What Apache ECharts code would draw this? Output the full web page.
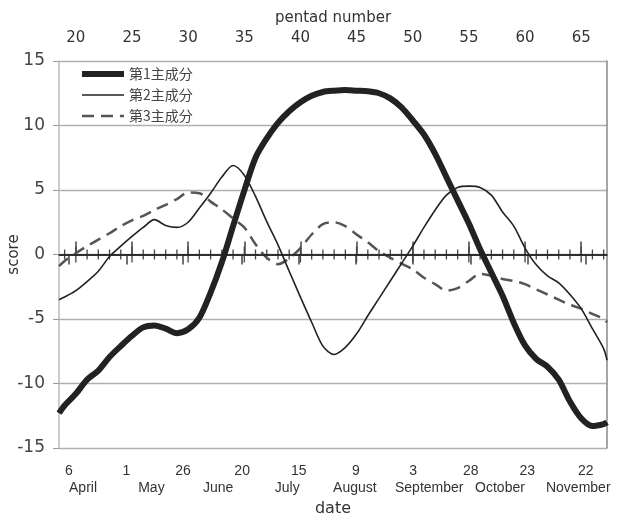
<!DOCTYPE html>
<html>
<head>
<meta charset="utf-8">
<script src="https://cdn.jsdelivr.net/npm/echarts@6/dist/echarts.min.js"></script>
<style>
  html, body { margin: 0; padding: 0; background: #fff; }
  #chart { width: 617px; height: 516px; }
</style>
</head>
<body>
<div id="chart"></div>
<script>
// pentad positions of the samples (first/last at the plot edges)
const pentads = [18.5, 19, 20, 21, 22, 23, 24, 25, 26, 27, 28, 29, 30, 31, 32, 33, 34, 35, 36, 37, 38, 39, 40,
  41, 42, 43, 44, 45, 46, 47, 48, 49, 50, 51, 52, 53, 54, 55, 56, 57, 58, 59, 60, 61, 62, 63, 64, 65, 66, 67, 67.3]

const pc1 = [-12.3, -11.7, -10.8, -9.7, -9.0, -7.95, -7.1, -6.3, -5.65, -5.5, -5.75, -6.1, -5.8, -4.9, -2.95, -0.6, 2.2,
  4.95, 7.5, 9.0, 10.2, 11.1, 11.8, 12.3, 12.6, 12.7, 12.75, 12.7, 12.65, 12.5, 12.1, 11.4, 10.4, 9.3, 7.8, 6.0, 4.2,
  2.4, 0.4, -1.4, -3.2, -5.3, -7.05, -8.1, -8.7, -9.7, -11.4, -12.7, -13.3, -13.15, -13.0]

const pc2 = [-3.5, -3.3, -2.8, -2.1, -1.3, -0.15, 0.65, 1.4, 2.1, 2.7, 2.25, 2.1, 2.5, 3.6, 4.75, 6.0, 6.9, 6.15,
  4.5, 2.55, 0.75, -1.3, -3.3, -5.25, -7.1, -7.75, -7.2, -6.15, -4.75, -3.4, -2.05, -0.7, 0.65, 2.1, 3.45, 4.6, 5.2,
  5.3, 5.2, 4.6, 3.3, 2.2, 0.5, -0.8, -1.65, -2.2, -3.1, -4.2, -5.75, -7.3, -8.2]

const pc3 = [-0.9, -0.5, 0.1, 0.65, 1.15, 1.65, 2.2, 2.65, 3.0, 3.45, 3.85, 4.3, 4.8, 4.75, 4.1, 3.5, 2.8, 2.1,
  0.8, -0.25, -0.75, -0.3, 0.5, 1.55, 2.35, 2.5, 2.2, 1.55, 0.95, 0.25, -0.25, -0.7, -1.15, -1.8, -2.3, -2.8, -2.6,
  -2.05, -1.5, -1.65, -1.9, -2.05, -2.3, -2.7, -3.1, -3.5, -3.9, -4.2, -4.6, -5.0, -5.25]

const seriesNames = ['第1主成分', '第2主成分', '第3主成分']

// top axis ticks (pentad number)
const pentadTicks = [20, 25, 30, 35, 40, 45, 50, 55, 60, 65]
// bottom axis: date ticks and month names (positions in pentad units)
const dateTickPos = [19.39, 24.51, 29.55, 34.81, 39.86, 44.94, 50.04, 55.16, 60.2, 65.4]
const dateTickLabels = ['6', '1', '26', '20', '15', '9', '3', '28', '23', '22']
const monthPos = [20.64, 26.73, 32.67, 38.82, 44.85, 51.47, 57.77, 64.74]
const monthLabels = ['April', 'May', 'June', 'July', 'August', 'September', 'October', 'November']
// small ticks across the zero line
const zeroTicks = []
for (let p = 19; p <= 67; p++) zeroTicks.push(p)

const xMin = 18.5, xMax = 67.3

function nearestLabel(v, pos, labels) {
  let best = 0
  for (let i = 1; i < pos.length; i++) {
    if (Math.abs(pos[i] - v) < Math.abs(pos[best] - v)) best = i
  }
  return labels[best]
}

const chart = echarts.init(document.getElementById('chart'))

const option = {
  animation: false,
  backgroundColor: '#fff',
  grid: { left: 59, right: 10, top: 61, bottom: 68, containLabel: false, outerBoundsMode: 'none' },
  legend: {
    left: 74,
    top: 62,
    orient: 'vertical',
    itemWidth: 42,
    itemHeight: 14,
    itemGap: 7,
    lineStyle: { width: 'inherit' },
    textStyle: { fontSize: 14, color: '#444', fontFamily: 'Noto Sans CJK JP' },
    data: seriesNames
  },
  xAxis: [
    {
      type: 'value', position: 'top', min: xMin, max: xMax,
      name: 'pentad number', nameLocation: 'middle', nameGap: 29,
      nameTextStyle: { fontSize: 15, color: '#333', fontFamily: 'DejaVu Sans' },
      axisLine: { show: true, lineStyle: { color: '#555', width: 1.5 } },
      axisTick: { show: true, customValues: pentadTicks, length: 13, lineStyle: { color: '#444', width: 1.5 } },
      axisLabel: { customValues: pentadTicks, fontSize: 15, color: '#333', margin: 15, fontFamily: 'DejaVu Sans' },
      splitLine: { show: false }
    },
    {
      type: 'value', position: 'bottom', min: xMin, max: xMax,
      name: 'date', nameLocation: 'middle', nameGap: 53,
      nameTextStyle: { fontSize: 16, color: '#333', fontFamily: 'DejaVu Sans' },
      axisLine: { show: true, lineStyle: { color: '#555', width: 1.5 } },
      axisTick: { show: true, customValues: dateTickPos, length: 10, lineStyle: { color: '#444', width: 1.5 } },
      axisLabel: {
        customValues: dateTickPos, fontSize: 14, color: '#333', margin: 16, fontFamily: 'Liberation Sans',
        formatter: v => nearestLabel(v, dateTickPos, dateTickLabels)
      },
      splitLine: { show: false }
    },
    {
      type: 'value', position: 'bottom', min: xMin, max: xMax,
      axisLine: { show: false },
      axisTick: { show: false },
      axisLabel: {
        customValues: monthPos, fontSize: 14, color: '#333', margin: 33, fontFamily: 'Liberation Sans',
        formatter: v => nearestLabel(v, monthPos, monthLabels)
      },
      splitLine: { show: false }
    }
  ],
  yAxis: [
    {
      type: 'value', min: -15, max: 15, interval: 5,
      name: 'score', nameLocation: 'middle', nameGap: 37, nameMoveOverlap: false,
      nameTextStyle: { fontSize: 15, color: '#333', fontFamily: 'DejaVu Sans' },
      axisLine: { show: true, lineStyle: { color: '#bbb', width: 1.5 } },
      axisTick: { show: true, length: 6, lineStyle: { color: '#999' } },
      axisLabel: { fontSize: 17, color: '#444', margin: 14, fontFamily: 'DejaVu Sans' },
      splitLine: { show: true, lineStyle: { color: '#b0b0b0', width: 1.3 } }
    },
    {
      type: 'value', position: 'right', min: -15, max: 15,
      axisLine: { show: true, lineStyle: { color: '#888', width: 1.5 } },
      axisTick: { show: false },
      axisLabel: { show: false },
      splitLine: { show: false }
    }
  ],
  series: [
    {
      name: 'zeroTicks',
      type: 'custom',
      xAxisIndex: 1,
      silent: true,
      data: zeroTicks.map(p => [p, 0]),
      renderItem: (params, api) => {
        const pt = api.coord([api.value(0), api.value(1)])
        const half = api.value(0) % 5 === 0 ? 8 : 5
        return {
          type: 'line',
          shape: { x1: pt[0], y1: pt[1] - half, x2: pt[0], y2: pt[1] + half },
          style: { stroke: '#444', lineWidth: 1.3 }
        }
      },
      markLine: {
        silent: true,
        symbol: 'none',
        label: { show: false },
        lineStyle: { color: '#222', width: 1.5, type: 'solid' },
        data: [{ yAxis: 0 }]
      },
      z: 1
    },
    {
      name: seriesNames[0],
      type: 'line',
      xAxisIndex: 1,
      symbol: 'none',
      smooth: 0.3,
      lineStyle: { color: '#222', width: 6 },
      itemStyle: { color: 'rgba(0,0,0,0)', borderWidth: 0 },
      data: pentads.map((p, i) => [p, pc1[i]]),
      z: 4
    },
    {
      name: seriesNames[1],
      type: 'line',
      xAxisIndex: 1,
      symbol: 'none',
      smooth: 0.3,
      lineStyle: { color: '#222', width: 1.6 },
      itemStyle: { color: 'rgba(0,0,0,0)', borderWidth: 0 },
      data: pentads.map((p, i) => [p, pc2[i]]),
      z: 3
    },
    {
      name: seriesNames[2],
      type: 'line',
      xAxisIndex: 1,
      symbol: 'none',
      smooth: 0.3,
      lineStyle: { color: '#555', width: 2.5, type: [12, 7] },
      itemStyle: { color: 'rgba(0,0,0,0)', borderWidth: 0 },
      data: pentads.map((p, i) => [p, pc3[i]]),
      z: 2
    }
  ]
}

chart.setOption(option)
</script>
</body>
</html>
